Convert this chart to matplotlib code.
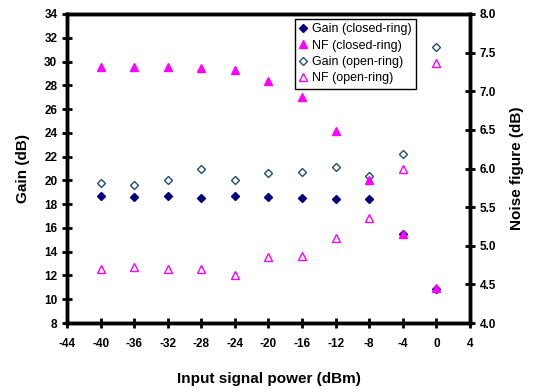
import matplotlib
matplotlib.use("Agg")
import matplotlib.pyplot as plt

plt.rcParams['font.family'] = ['Liberation Sans', 'DejaVu Sans']
plt.rcParams['axes.unicode_minus'] = False

power = [-40, -36, -32, -28, -24, -20, -16, -12, -8, -4, 0]
gain_closed = [18.7, 18.6, 18.7, 18.5, 18.7, 18.6, 18.5, 18.4, 18.4, 15.5, 10.9]
gain_open = [19.8, 19.6, 20.0, 21.0, 20.0, 20.6, 20.7, 21.1, 20.4, 22.2, 31.2]
nf_closed = [7.32, 7.32, 7.32, 7.30, 7.28, 7.13, 6.92, 6.48, 5.85, 5.15, 4.45]
nf_open = [4.70, 4.72, 4.70, 4.70, 4.62, 4.85, 4.87, 5.10, 5.36, 6.00, 7.37]

navy = '#000080'
magenta = '#ff00ff'

fig = plt.figure(figsize=(5.34, 3.92), dpi=100)
ax = fig.add_axes([67 / 534, 1 - 323 / 392, 403 / 534, 309 / 392])
ax2 = ax.twinx()

h1, = ax.plot(power, gain_closed, linestyle='none', marker='D', ms=4,
              color=navy, label='Gain (closed-ring)')
h2, = ax2.plot(power, nf_closed, linestyle='none', marker='^', ms=6,
               color=magenta, label='NF (closed-ring)')
h3, = ax.plot(power, gain_open, linestyle='none', marker='D', ms=4,
              mfc='none', mec='#1f4e79', mew=1, label='Gain (open-ring)')
h4, = ax2.plot(power, nf_open, linestyle='none', marker='^', ms=6,
               mfc='none', mec=magenta, mew=1, label='NF (open-ring)')

ax.set_xlim(-44, 4)
ax.set_ylim(8, 34)
ax2.set_ylim(4, 8)
ax.set_xticks(range(-44, 5, 4))
ax.set_yticks(range(8, 35, 2))
ax2.set_yticks([4 + 0.5 * i for i in range(9)])
ax2.set_yticklabels(['%.1f' % (4 + 0.5 * i) for i in range(9)])

for a in (ax, ax2):
    for s in a.spines.values():
        s.set_linewidth(2.5)
ax.tick_params(axis='both', direction='inout', length=7, width=2,
               labelsize=8.5)
ax.tick_params(axis='x', pad=7)
ax2.tick_params(axis='y', direction='inout', length=7, width=2, labelsize=8.5)
for lab in ax.get_xticklabels() + ax.get_yticklabels() + ax2.get_yticklabels():
    lab.set_fontweight('bold')

ax.set_xlabel('Input signal power (dBm)', fontsize=11, fontweight='bold',
              labelpad=16)
ax.set_ylabel('Gain (dB)', fontsize=11, fontweight='bold', labelpad=10)
ax2.set_ylabel('Noise figure (dB)', fontsize=11, fontweight='bold',
               labelpad=10)

leg = ax2.legend(handles=[h1, h2, h3, h4], loc='upper left',
                 bbox_to_anchor=(0.565, 0.984), borderaxespad=0,
                 fontsize=9, fancybox=False,
                 framealpha=1, edgecolor='black', handlelength=0.7,
                 handletextpad=0.3, borderpad=0.35, labelspacing=0.35)
leg.get_frame().set_linewidth(1)

fig.savefig('out.png', dpi=100)
